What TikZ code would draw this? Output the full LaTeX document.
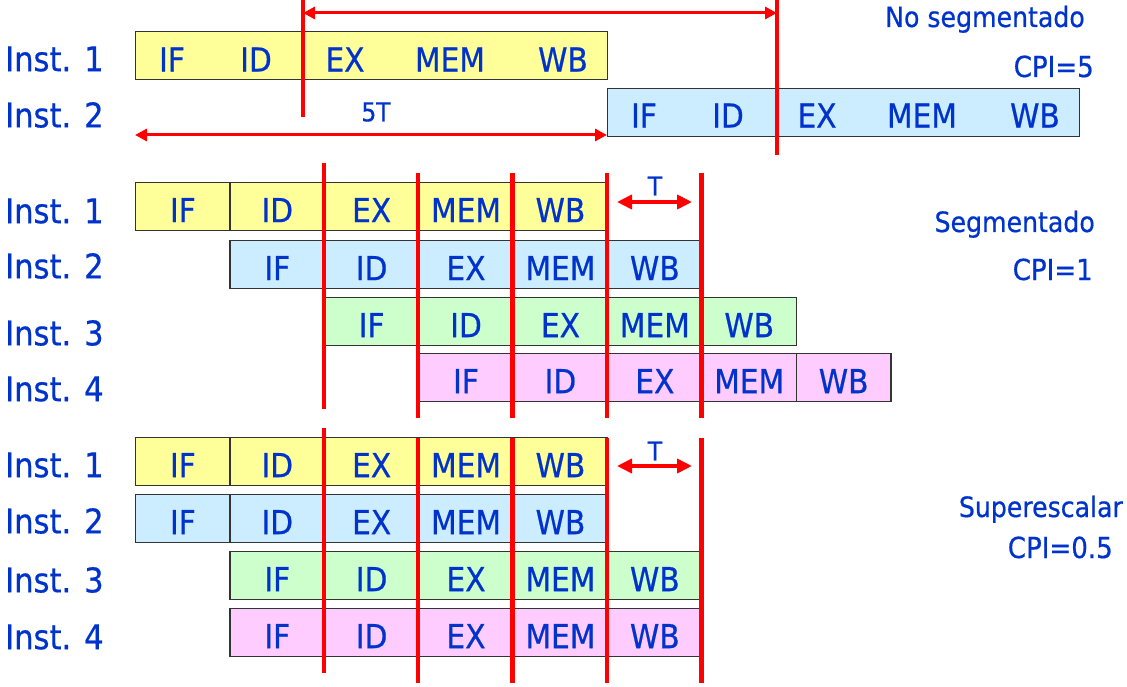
\documentclass[tikz,border=0pt]{standalone}
\usepackage{fontspec}
\setmainfont[FakeBold=0.6]{DejaVu Sans Condensed}
\usetikzlibrary{arrows.meta}

\definecolor{txtblue}{RGB}{0,51,204}
\definecolor{cyellow}{RGB}{255,255,153}
\definecolor{cblue}{RGB}{204,236,255}
\definecolor{cgreen}{RGB}{204,255,204}
\definecolor{cpink}{RGB}{255,204,255}

\begin{document}
\begin{tikzpicture}[x=1pt,y=-1pt,
  lbl/.style={text=txtblue,inner sep=0pt,font=\fontsize{33}{33}\selectfont},
  inst/.style={lbl,anchor=west,font=\fontsize{34}{34}\selectfont},
  title/.style={lbl,anchor=base east,font=\fontsize{28}{28}\selectfont},
  small/.style={lbl,font=\fontsize{26}{26}\selectfont},
  stage/.style={lbl,text height=31pt,text depth=0pt,draw=black!80,line width=1.3pt,minimum width=94.4pt,minimum height=48pt,anchor=north west},
  longbox/.style={draw=black!80,line width=1.3pt,minimum width=472pt,minimum height=48pt,inner sep=0pt,anchor=north west},
  redline/.style={draw=red,line width=4.5pt},
  span/.style={draw=red,line width=3pt,{Triangle[length=12pt,width=12pt]}-{Triangle[length=12pt,width=12pt]}},
  tspan/.style={draw=red,line width=4pt,{Triangle[length=15pt,width=14pt]}-{Triangle[length=15pt,width=14pt]}}]
\useasboundingbox (0,0) rectangle (1127,687);

% no segmentado
\node[longbox,fill=cyellow] (ns1) at (135,31) {};
\node[longbox,fill=cblue] (ns2) at (607,88) {};
\foreach \st/\px in {IF/172,ID/256,EX/345,MEM/450,WB/563}{
  \node[lbl] (ns1\st) at (\px,59.5) {\st};
  \node[lbl] (ns2\st) at (\px+472,115.5) {\st};
}
\node[inst] (i11) at (5,59) {Inst. 1};
\node[inst] (i12) at (5,115) {Inst. 2};

\draw[redline] (303,0) -- (303,117);
\draw[redline] (777,0) -- (777,155);
\coordinate (a1) at (303,13);
\coordinate (a2) at (777,13);
\coordinate (b1) at (135,135);
\coordinate (b2) at (607,135);
\draw[span] (a1) -- (a2);
\draw[span] (b1) -- (b2);
\node[small] (t5) at (376,112) {5T};

\node[title] (tns) at (1085,27) {No segmentado};
\node[title,font=\fontsize{29}{29}\selectfont] (cpi5) at (1094,77) {CPI=5};

% segmentado
\foreach \r/\x/\y/\c in {1/135/182/cyellow,2/229.4/240/cblue,3/323.8/297/cgreen,4/418.2/353/cpink}{
  \foreach \st [count=\k] in {IF,ID,EX,MEM,WB}
    \node[stage,fill=\c] (sg\r\k) at (\x+\k*94.4-94.4,\y) {\st};
}
\node[inst] (i21) at (5,211) {Inst. 1};
\node[inst] (i22) at (5,266) {Inst. 2};
\node[inst] (i23) at (5,333) {Inst. 3};
\node[inst] (i24) at (5,389) {Inst. 4};

\draw[redline] (323.8,163) -- (323.8,409);
\foreach \px in {418.2,512.6,607,701.4}
  \draw[redline] (\px,173) -- (\px,418);
\coordinate (c1) at (617,202);
\coordinate (c2) at (692,202);
\draw[tspan] (c1) -- (c2);
\node[small] (t1) at (655,186) {T};

\node[title] (tsg) at (1095,232) {Segmentado};
\node[title,font=\fontsize{29}{29}\selectfont] (cpi1) at (1093,280) {CPI=1};

% superescalar
\foreach \r/\x/\y/\c in {1/135/437/cyellow,2/135/494/cblue,3/229.4/551/cgreen,4/229.4/608/cpink}{
  \foreach \st [count=\k] in {IF,ID,EX,MEM,WB}
    \node[stage,fill=\c] (sc\r\k) at (\x+\k*94.4-94.4,\y) {\st};
}
\node[inst] (i31) at (5,465) {Inst. 1};
\node[inst] (i32) at (5,521) {Inst. 2};
\node[inst] (i33) at (5,580) {Inst. 3};
\node[inst] (i34) at (5,637) {Inst. 4};

\draw[redline] (323.8,428) -- (323.8,673);
\foreach \px in {418.2,512.6,607,701.4}
  \draw[redline] (\px,438) -- (\px,683);
\coordinate (d1) at (617,466);
\coordinate (d2) at (692,466);
\draw[tspan] (d1) -- (d2);
\node[small] (t2) at (655,451) {T};

\node[title] (tsc) at (1123,517) {Superescalar};
\node[title,font=\fontsize{29}{29}\selectfont] (cpi05) at (1113,558) {CPI=0.5};
\end{tikzpicture}
\end{document}
